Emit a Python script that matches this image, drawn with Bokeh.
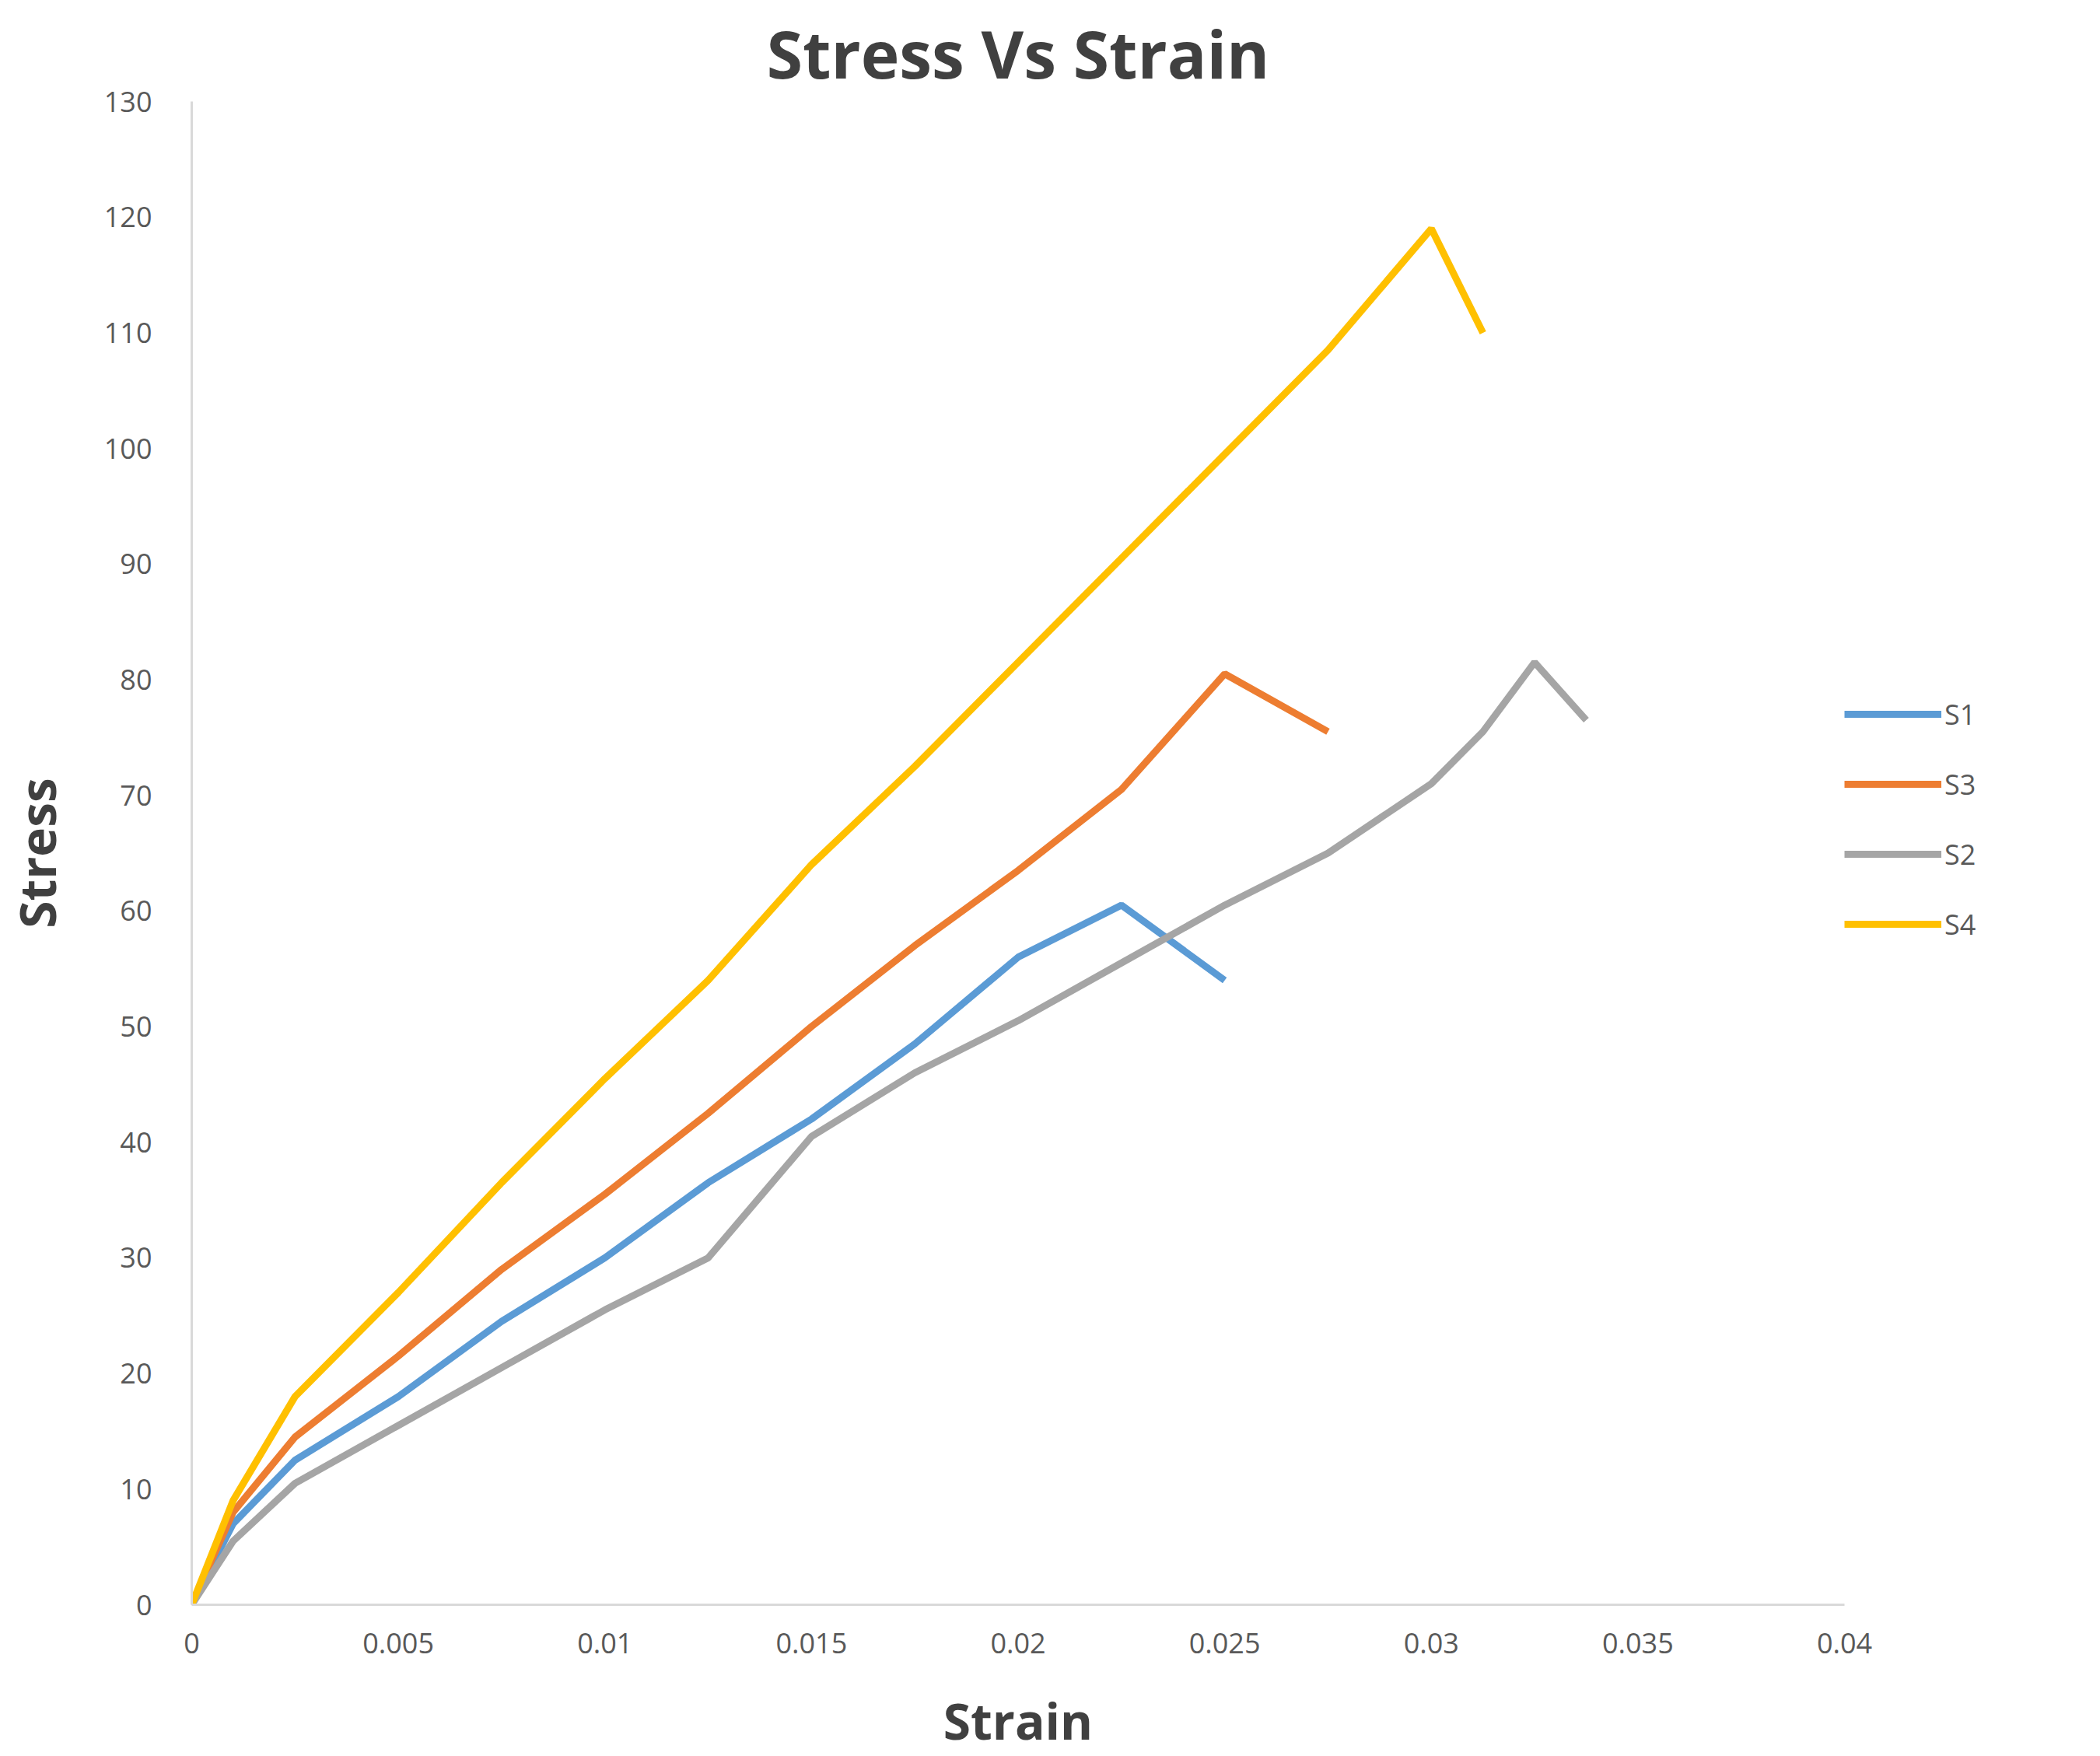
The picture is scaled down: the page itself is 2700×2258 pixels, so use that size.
from bokeh.embed import file_html
from bokeh.models import Legend, LegendItem
from bokeh.plotting import figure
from bokeh.resources import INLINE

# strain values for each specimen
strain_s1 = [0, 0.001, 0.0025, 0.005, 0.0075, 0.01, 0.0125, 0.015, 0.0175, 0.02, 0.0225, 0.025]
stress_s1 = [0, 7, 12.5, 18, 24.5, 30, 36.5, 42, 48.5, 56, 60.5, 54]

strain_s3 = [0, 0.001, 0.0025, 0.005, 0.0075, 0.01, 0.0125, 0.015, 0.0175, 0.02, 0.0225, 0.025, 0.0275]
stress_s3 = [0, 8, 14.5, 21.5, 29, 35.5, 42.5, 50, 57, 63.5, 70.5, 80.5, 75.5]

strain_s2 = [0, 0.001, 0.0025, 0.005, 0.0075, 0.01, 0.0125, 0.015, 0.0175, 0.02, 0.0225,
             0.025, 0.0275, 0.03, 0.03125, 0.0325, 0.03375]
stress_s2 = [0, 5.5, 10.5, 15.5, 20.5, 25.5, 30, 40.5, 46, 50.5, 55.5, 60.5, 65, 71, 75.5, 81.5, 76.5]

strain_s4 = [0, 0.001, 0.0025, 0.005, 0.0075, 0.01, 0.0125, 0.015, 0.0175, 0.02, 0.0225,
             0.025, 0.0275, 0.03, 0.03125]
stress_s4 = [0, 9, 18, 27, 36.5, 45.5, 54, 64, 72.5, 81.5, 90.5, 99.5, 108.5, 119, 110]

x_ticks = [0, 0.005, 0.01, 0.015, 0.02, 0.025, 0.03, 0.035, 0.04]
x_tick_labels = ["0", "0.005", "0.01", "0.015", "0.02", "0.025", "0.03", "0.035", "0.04"]
y_ticks = list(range(0, 131, 10))

FONT = "Open Sans"

p = figure(
    frame_width=2125, frame_height=1933,
    x_range=(0, 0.04), y_range=(0, 130),
    output_backend="svg", toolbar_location=None,
    title="Stress Vs Strain",
    min_border_left=210, min_border_top=130, min_border_right=10, min_border_bottom=10,
)
p.title.text_font = FONT
p.title.text_font_size = "84px"
p.title.text_font_style = "bold"
p.title.text_color = "#404040"
p.title.align = "center"

p.xgrid.visible = False
p.ygrid.visible = False
p.outline_line_color = None

for ax in (p.xaxis, p.yaxis):
    ax.major_tick_line_color = None
    ax.minor_tick_line_color = None
    ax.axis_line_color = "#d9d9d9"
    ax.axis_line_width = 3
    ax.major_label_text_font = FONT
    ax.major_label_text_font_size = "36px"
    ax.major_label_text_color = "#595959"
    ax.axis_label_text_font = FONT
    ax.axis_label_text_font_size = "64px"
    ax.axis_label_text_font_style = "bold"
    ax.axis_label_text_color = "#404040"

p.xaxis.ticker = x_ticks
p.xaxis.major_label_overrides = dict(zip(x_ticks, x_tick_labels))
p.yaxis.ticker = y_ticks
p.xaxis.axis_label = "Strain"
p.yaxis.axis_label = "Stress"
p.xaxis.major_label_standoff = 30
p.yaxis.major_label_standoff = 45
p.xaxis.axis_label_standoff = 40
p.yaxis.axis_label_standoff = 40

series = [
    ("S1", strain_s1, stress_s1, "#5B9BD5"),
    ("S3", strain_s3, stress_s3, "#ED7D31"),
    ("S2", strain_s2, stress_s2, "#A5A5A5"),
    ("S4", strain_s4, stress_s4, "#FFC000"),
]
items = []
for name, xs, ys, color in series:
    r = p.line(xs, ys, line_color=color, line_width=9)
    items.append(LegendItem(label=name, renderers=[r]))

legend = Legend(
    items=items, location=(0, 830), border_line_color=None,
    glyph_width=125, glyph_height=90, label_text_font=FONT,
    label_text_font_size="36px", label_text_color="#595959",
    label_standoff=4, padding=10, margin=80, spacing=0,
)
p.add_layout(legend, "right")

open("out.html", "w").write(file_html(p, INLINE))
